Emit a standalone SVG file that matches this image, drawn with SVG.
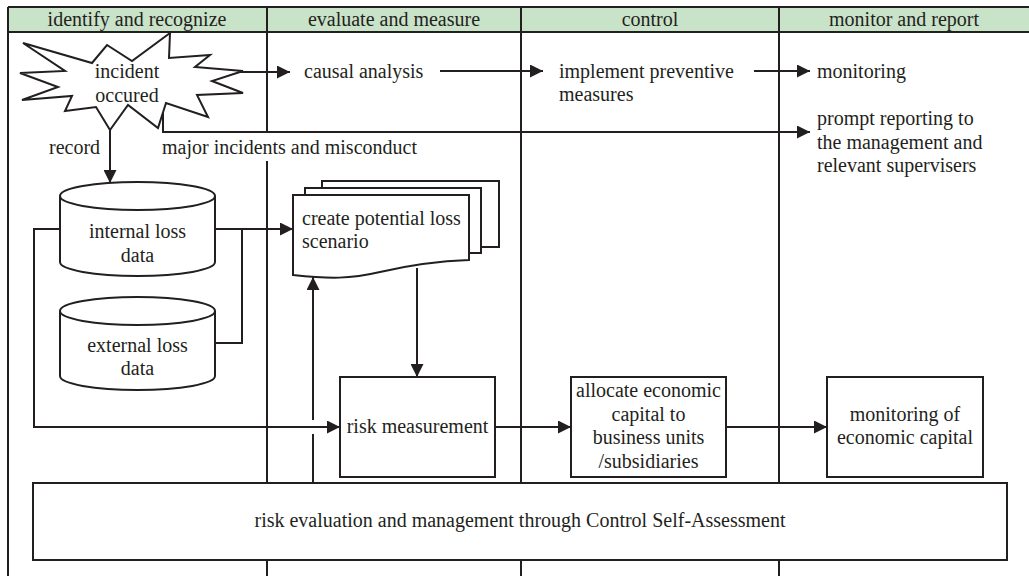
<svg xmlns="http://www.w3.org/2000/svg" width="1029" height="576" viewBox="0 0 1029 576">
<style>
.ln{fill:none;stroke:#231f20;stroke-width:2}
.nd{fill:#fff;stroke:#231f20;stroke-width:2}
.t{font-family:"Liberation Serif","Times New Roman",serif;font-size:20px;fill:#231f20}
.c{text-anchor:middle}
</style>
<defs>
<marker id="ah" markerUnits="userSpaceOnUse" markerWidth="13" markerHeight="13" refX="13" refY="6.5" orient="auto">
<path d="M0,0 L13,6.5 L0,13 Z" fill="#231f20"/>
</marker>
</defs>
<rect width="1029" height="576" fill="#fff"/>
<g id="frame">
<rect x="8" y="7" width="1021" height="25" fill="#c9e3c9"/>
<path class="ln" d="M8,7 H1029 M8,32 H1029 M8,7 V576 M267,7 V132 M267,161 V576 M521,7 V576 M779,7 V576"/>
<text class="t c" x="137" y="26">identify and recognize</text>
<text class="t c" x="394" y="26">evaluate and measure</text>
<text class="t c" x="650" y="26">control</text>
<text class="t c" x="904" y="26">monitor and report</text>
</g>
<g id="connectors">
<path class="ln" d="M232,72 H290" marker-end="url(#ah)"/>
<path class="ln" d="M440,71 H543" marker-end="url(#ah)"/>
<path class="ln" d="M754,71 H810" marker-end="url(#ah)"/>
<path class="ln" d="M163,113 V132 H810" marker-end="url(#ah)"/>
<path class="ln" d="M110,128 V183" marker-end="url(#ah)"/>
<path class="ln" d="M215,229 H293" marker-end="url(#ah)"/>
<path class="ln" d="M215,343 H242 V229"/>
<path class="ln" d="M60,229 H34 V427 H340" marker-end="url(#ah)"/>
<path class="ln" d="M313,483 V434"/>
<path class="ln" d="M313,420 V277" marker-end="url(#ah)"/>
<path class="ln" d="M417,268 V377" marker-end="url(#ah)"/>
<path class="ln" d="M495,427 H571" marker-end="url(#ah)"/>
<path class="ln" d="M726,427 H827" marker-end="url(#ah)"/>
<text class="t" x="49" y="154">record</text>
<text class="t" x="162" y="154">major incidents and misconduct</text>
</g>
<g id="incident">
<path class="nd" d="M170,33 L169,58 L210,55 L195,67 L243,71 L212,81 L243,93 L197,95 L208,117 L166,103 L158,128 L128,105 L110,130 L96,107 L65,111 L72,96 L22,100 L58,87 L20,73 L65,71 L23,43 L92,63 L107,45 L132,61 Z"/>
<text class="t c" x="127" y="78">incident</text>
<text class="t c" x="127" y="102">occured</text>
</g>
<g id="causal">
<text class="t" x="304" y="78">causal analysis</text>
</g>
<g id="implement">
<text class="t" x="559" y="78">implement preventive</text>
<text class="t" x="559" y="101">measures</text>
</g>
<g id="monitoring">
<text class="t" x="817" y="78">monitoring</text>
</g>
<g id="prompt">
<text class="t" x="817" y="125">prompt reporting to</text>
<text class="t" x="817" y="149">the management and</text>
<text class="t" x="817" y="172">relevant supervisers</text>
</g>
<g id="internal">
<path class="nd" d="M60,196 A77.5,14 0 0 1 215,196 V262 A77.5,14 0 0 1 60,262 Z"/>
<path class="ln" d="M60,196 A77.5,14 0 0 0 215,196"/>
<text class="t c" x="137.5" y="238">internal loss</text>
<text class="t c" x="137.5" y="262">data</text>
</g>
<g id="external">
<path class="nd" d="M60,311 A77.5,14 0 0 1 215,311 V376 A77.5,14 0 0 1 60,376 Z"/>
<path class="ln" d="M60,311 A77.5,14 0 0 0 215,311"/>
<text class="t c" x="137.5" y="352">external loss</text>
<text class="t c" x="137.5" y="375">data</text>
</g>
<g id="scenario">
<rect class="nd" x="322" y="181" width="177" height="66"/>
<rect class="nd" x="305" y="188" width="176" height="65"/>
<path class="nd" d="M293,195 H469 V260 C440,261 410,265 380,272 C350,279 330,279 293,275 Z"/>
<text class="t" x="302" y="225">create potential loss</text>
<text class="t" x="302" y="248">scenario</text>
</g>
<g id="risk">
<rect class="nd" x="340" y="377" width="155" height="100"/>
<text class="t c" x="417.5" y="433">risk measurement</text>
</g>
<g id="allocate">
<rect class="nd" x="571" y="377" width="155" height="100"/>
<text class="t c" x="648.5" y="397">allocate economic</text>
<text class="t c" x="648.5" y="421">capital to</text>
<text class="t c" x="648.5" y="444">business units</text>
<text class="t c" x="648.5" y="468">/subsidiaries</text>
</g>
<g id="moncap">
<rect class="nd" x="827" y="377" width="156" height="100"/>
<text class="t c" x="905" y="421">monitoring of</text>
<text class="t c" x="905" y="444">economic capital</text>
</g>
<g id="csa">
<rect class="nd" x="33" y="483" width="974" height="77"/>
<text class="t c" x="520" y="527">risk evaluation and management through Control Self-Assessment</text>
</g>
</svg>
